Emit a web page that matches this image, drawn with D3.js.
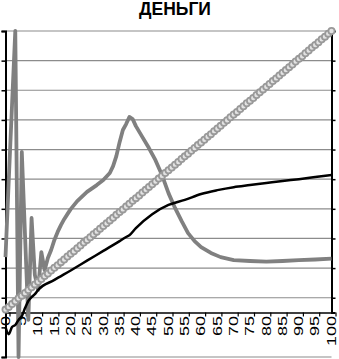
<!DOCTYPE html>
<html>
<head>
<meta charset="utf-8">
<script src="https://cdn.jsdelivr.net/npm/d3@7"></script>
<style>
  body { margin: 0; background: #fff; }
  svg { display: block; }
</style>
</head>
<body>
<svg id="chart" width="339" height="359"></svg>
<script>
// data
let chartTitle = 'ДЕНЬГИ';
let xTicks = [0, 5, 10, 15, 20, 25, 30, 35, 40, 45, 50, 55, 60, 65, 70, 75, 80, 85, 90, 95, 100];
let yTicks = [-15, -5, 5, 15, 25, 35, 45, 55, 65, 75, 85, 95];

// gray jumpy series
let grayX = [0, 1, 2, 3, 4, 5, 6, 7, 8, 9, 10, 11, 12, 13, 14, 15, 16, 17, 18, 19, 20, 22, 25, 28, 30, 32, 33, 34, 35, 36, 37, 38, 39, 40, 42, 44, 46, 48, 50, 52, 54, 56, 58, 60, 63, 66, 70, 75, 80, 85, 90, 95, 100];
let grayY = [18.7, 44.7, 70.0, 95.0, -15.0, 54.2, 25.8, -2.5, 31.9, 12.7, 7.6, 20.4, 14.3, 18.4, 21.1, 24.5, 27.2, 29.5, 31.5, 33.2, 34.9, 37.6, 40.7, 43.0, 44.7, 47.1, 49.4, 52.8, 57.5, 61.6, 63.6, 66.0, 65.3, 62.9, 59.2, 55.5, 51.4, 46.4, 40.3, 35.3, 30.9, 26.8, 24.1, 22.1, 20.1, 18.7, 17.7, 17.4, 17.2, 17.4, 17.7, 17.9, 18.2];

// black series
let blackX = [0, 1, 2, 3, 4, 5, 6, 7, 8, 9, 10, 15, 20, 25, 30, 35, 37, 38, 40, 45, 50, 55, 60, 65, 70, 75, 80, 85, 90, 95, 100];
let blackY = [-4.9, -7.3, -4.9, -4.2, -2.5, -1.2, 1.5, 3.9, 5.2, 6.2, 7.6, 11.0, 14.2, 17.5, 20.8, 24.1, 25.5, 26.1, 28.5, 33.2, 36.3, 38.0, 40.0, 41.3, 42.3, 43.0, 43.7, 44.4, 45.0, 45.7, 46.4];

// straight series with a marker on every point
let dotY = [1.0, 1.9, 2.9, 3.8, 4.8, 5.7, 6.6, 7.6, 8.5, 9.5,
  10.4, 11.3, 12.3, 13.2, 14.2, 15.1, 16.0, 17.0, 17.9, 18.9,
  19.8, 20.7, 21.7, 22.6, 23.6, 24.5, 25.4, 26.4, 27.3, 28.3,
  29.2, 30.1, 31.1, 32.0, 33.0, 33.9, 34.8, 35.8, 36.7, 37.7,
  38.6, 39.5, 40.5, 41.4, 42.4, 43.3, 44.2, 45.2, 46.1, 47.1,
  48.0, 48.9, 49.9, 50.8, 51.8, 52.7, 53.6, 54.6, 55.5, 56.5,
  57.4, 58.3, 59.3, 60.2, 61.2, 62.1, 63.0, 64.0, 64.9, 65.9,
  66.8, 67.7, 68.7, 69.6, 70.6, 71.5, 72.4, 73.4, 74.3, 75.3,
  76.2, 77.1, 78.1, 79.0, 80.0, 80.9, 81.8, 82.8, 83.7, 84.7,
  85.6, 86.5, 87.5, 88.4, 89.4, 90.3, 91.2, 92.2, 93.1, 94.1, 95.0];

const svg = d3.select('#chart');

let x = d3.scaleLinear().domain([0, 100]).range([5.5, 331.5]);
let y = d3.scaleLinear().domain([-15, 95]).range([357, 31]);

// title
svg.append('text')
  .attr('x', 175).attr('y', 15)
  .attr('text-anchor', 'middle')
  .style('font-family', '"Liberation Sans", Arial, sans-serif')
  .style('font-weight', 'bold')
  .style('font-size', '17.5px')
  .text(chartTitle);

// gridlines (none drawn under the labels)
svg.append('g').selectAll('line')
  .data(yTicks.filter(d => d > 0 || d == -15))
  .join('line')
  .attr('x1', x(0)).attr('x2', x(100))
  .attr('y1', d => y(d)).attr('y2', d => y(d))
  .attr('stroke', '#8c8c8c')
  .attr('stroke-width', 1.2);

// left axis
let leftAxis = d3.axisLeft(y).tickValues(yTicks).tickSize(4).tickFormat('');
svg.append('g')
  .attr('transform', `translate(${x(0)},0)`)
  .call(leftAxis)
  .call(g => g.select('.domain').attr('stroke-width', 2))
  .call(g => g.selectAll('.tick line').attr('stroke-width', 1.5));

// right axis, stops at the x axis
let rightAxis = d3.axisRight(y.copy().domain([0, 95]).range([y(0), y(95)]))
  .tickValues(yTicks.filter(d => d > 0)).tickSize(4).tickFormat('');
svg.append('g')
  .attr('transform', `translate(${x(100)},0)`)
  .call(rightAxis)
  .call(g => g.select('.domain').attr('stroke-width', 2))
  .call(g => g.selectAll('.tick line').attr('stroke-width', 1.5));

// x axis
let xAxis = d3.axisBottom(x).tickValues(xTicks).tickSize(0).tickFormat('');
svg.append('g')
  .attr('transform', `translate(0,${y(0)})`)
  .call(xAxis)
  .call(g => g.select('.domain').attr('stroke-width', 1.5));

svg.append('g').selectAll('line')
  .data(xTicks)
  .join('line')
  .attr('x1', d => x(d) + 4.5).attr('x2', d => x(d) + 4.5)
  .attr('y1', y(0)).attr('y2', y(0) + 4)
  .attr('stroke', '#000').attr('stroke-width', 1.2);

svg.append('g').selectAll('text')
  .data(xTicks)
  .join('text')
  .attr('transform', d => `translate(${x(d)},${y(0) + 3.5}) rotate(-90) scale(1.5,1)`)
  .attr('text-anchor', 'end')
  .attr('dy', '0.35em')
  .style('font-family', '"Liberation Sans", Arial, sans-serif')
  .style('font-size', '12px')
  .text(d => d);

// series
let grayData = grayX.map((d, i) => ({x: d, y: grayY[i]}));
let blackData = blackX.map((d, i) => ({x: d, y: blackY[i]}));
let dotData = dotY.map((d, i) => ({x: i, y: d}));

let line = d3.line().x(d => x(d.x)).y(d => y(d.y));
let smooth = d3.line().x(d => x(d.x)).y(d => y(d.y)).curve(d3.curveMonotoneX);

svg.append('path')
  .datum(grayData)
  .attr('d', line)
  .attr('fill', 'none')
  .attr('stroke', '#808080')
  .attr('stroke-width', 3.8)
  .attr('stroke-linejoin', 'round');

svg.append('path')
  .datum(blackData)
  .attr('d', smooth)
  .attr('fill', 'none')
  .attr('stroke', '#000')
  .attr('stroke-width', 2.5)
  .attr('stroke-linejoin', 'round');

svg.append('g').selectAll('circle')
  .data(dotData)
  .join('circle')
  .attr('cx', d => x(d.x))
  .attr('cy', d => y(d.y))
  .attr('r', 3.1)
  .attr('fill', '#e2e2e2')
  .attr('stroke', '#999')
  .attr('stroke-width', 1.8);
</script>
</body>
</html>
